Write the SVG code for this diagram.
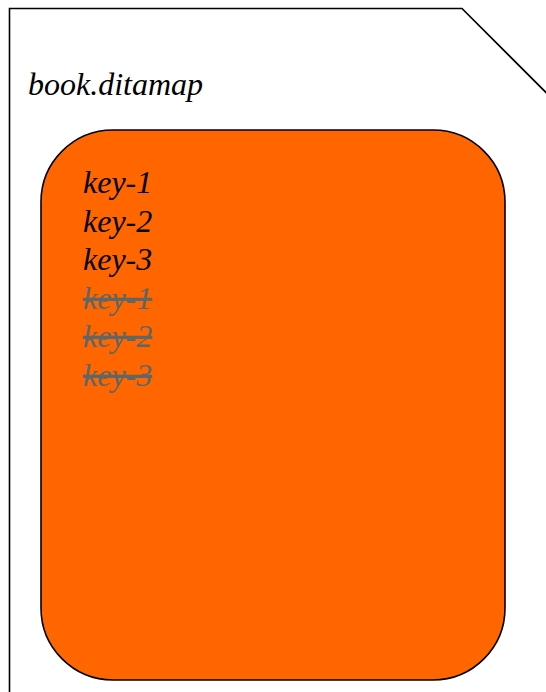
<svg xmlns="http://www.w3.org/2000/svg" width="546" height="692" viewBox="0 0 546 692">
<style>
.t{font-family:"Liberation Serif","Times New Roman",serif;font-style:italic;font-size:32px;fill:#000}
.s{fill:#5f6666;text-decoration:line-through}
</style>
<rect width="546" height="692" fill="#fff"/>
<g id="document">
<path d="M9.5,700 L9.5,8.5 L462,8.5 L550,96.5" fill="#fff" stroke="#000" stroke-width="1.6"/>
<text class="t" x="28" y="95">book.ditamap</text>
</g>
<g id="keyscope">
<rect x="41" y="130" width="464" height="550" rx="72" ry="72" fill="#ff6600" stroke="#000" stroke-width="1.6"/>
<text class="t" x="83" y="193">key-1</text>
<text class="t" x="83" y="232">key-2</text>
<text class="t" x="83" y="270">key-3</text>
<text class="t s" x="83" y="309">key-1</text>
<text class="t s" x="83" y="347">key-2</text>
<text class="t s" x="83" y="386">key-3</text>
</g>
<g id="connectors"/>
</svg>
